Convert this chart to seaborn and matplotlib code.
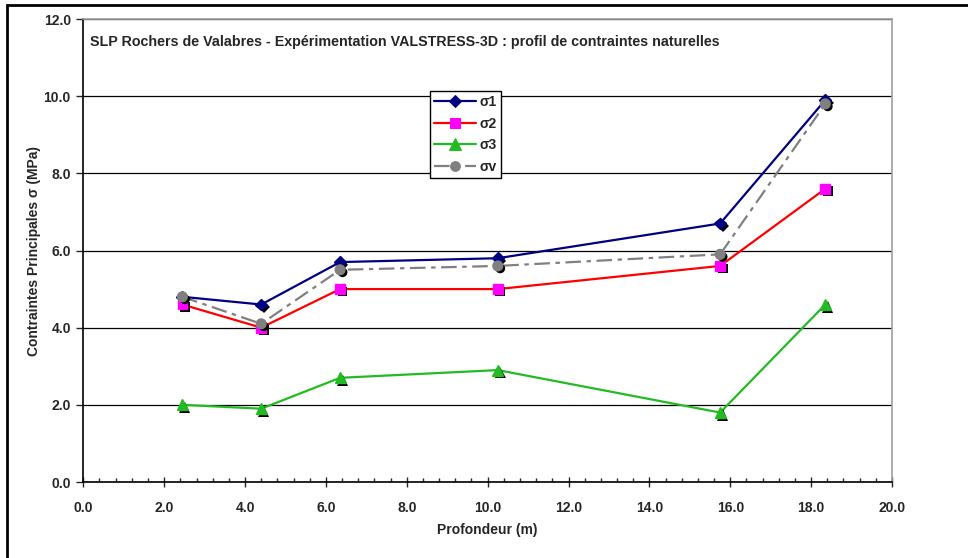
import numpy as np
import pandas as pd
import matplotlib
matplotlib.use("Agg")
import matplotlib.pyplot as plt
import matplotlib.patheffects as pe
from matplotlib.ticker import MultipleLocator, FormatStrFormatter
import seaborn as sns

# données
profondeur = [2.45, 4.4, 6.35, 10.25, 15.75, 18.35]
sigma1 = [4.8, 4.6, 5.7, 5.8, 6.7, 9.9]
sigma2 = [4.6, 4.0, 5.0, 5.0, 5.6, 7.6]
sigma3 = [2.0, 1.9, 2.7, 2.9, 1.8, 4.6]
sigmav = [4.8, 4.1, 5.5, 5.6, 5.9, 9.8]

series = [
    ("σ1", sigma1, "#000080", "#000080", "D", 6),
    ("σ2", sigma2, "#ff0000", "#ff00ff", "s", 7),
    ("σ3", sigma3, "#22bb22", "#22bb22", "^", 8),
    ("σv", sigmav, "#808080", "#808080", "o", 7),
]

sns.set_style("white")
plt.rcParams['font.family'] = ['Liberation Sans', 'DejaVu Sans']
plt.rcParams['font.weight'] = 'bold'

fig = plt.figure(figsize=(9.68, 5.58), dpi=100)
ax = fig.add_axes([83.3 / 968, 1 - 482 / 558, (892 - 83.3) / 968, (482 - 19) / 558])

# cadre extérieur
fig.patches.append(plt.Rectangle((7 / 968, -0.1), 1.2, 1 - 5 / 558 + 0.1, transform=fig.transFigure,
                                 fill=False, edgecolor="black", linewidth=2, zorder=-1))

for nom, vals, lc, mc, mk, ms in series:
    sns.lineplot(x=profondeur, y=vals, ax=ax, color=lc, linewidth=1.6, marker=mk,
                 markersize=ms, markerfacecolor=mc, markeredgecolor=mc, label=nom, zorder=3)
    line = ax.lines[-1]
    if nom == "σv":
        line.set_dashes([7, 2.5, 2, 2.5])
    line.set_marker("None")
    # marqueurs avec ombre (style Excel)
    ax.plot(profondeur, vals, linestyle="none", marker=mk, markersize=ms,
            markerfacecolor=mc, markeredgecolor=mc, zorder=4,
            path_effects=[pe.SimplePatchShadow(offset=(1.8, -1.8), shadow_rgbFace="black", alpha=1),
                          pe.Normal()])

ax.set_xlim(0, 20)
ax.set_ylim(0, 12)
ax.xaxis.set_major_locator(MultipleLocator(2))
ax.xaxis.set_minor_locator(MultipleLocator(0.4))
ax.yaxis.set_major_locator(MultipleLocator(2))
ax.xaxis.set_major_formatter(FormatStrFormatter("%.1f"))
ax.yaxis.set_major_formatter(FormatStrFormatter("%.1f"))
ax.tick_params(axis="x", which="major", direction="inout", length=7, width=1, labelsize=10, pad=10, bottom=True)
ax.tick_params(axis="x", which="minor", direction="in", length=3, width=1, bottom=True)
ax.tick_params(axis="y", which="major", direction="out", length=5, width=1, labelsize=10, pad=4, left=True)
for lab in ax.get_xticklabels() + ax.get_yticklabels():
    lab.set_fontweight("bold")

ax.grid(axis="y", color="black", linewidth=0.9)
ax.set_axisbelow(True)
ax.spines["left"].set_color("black")
ax.spines["bottom"].set_color("black")
ax.spines["top"].set_color("#a0a0a0")
ax.spines["right"].set_color("#a0a0a0")
for s in ax.spines.values():
    s.set_linewidth(1.2)

ax.set_xlabel("Profondeur (m)", fontsize=10, fontweight="bold", labelpad=6)
ax.set_ylabel("Contraintes Principales σ (MPa)", fontsize=10, fontweight="bold", labelpad=2)
ax.text(0.008, 0.950, "SLP Rochers de Valabres - Expérimentation VALSTRESS-3D : profil de contraintes naturelles",
        transform=ax.transAxes, fontsize=10.3, fontweight="bold", va="center", ha="left")

leg = ax.legend(loc="upper left", bbox_to_anchor=(0.429, 0.845), fontsize=10, frameon=True,
                fancybox=False, edgecolor="black", framealpha=1, handlelength=3.0,
                borderpad=0.3, labelspacing=0.55, handletextpad=0.25, borderaxespad=0)
leg.get_frame().set_linewidth(1)
for t in leg.get_texts():
    t.set_fontweight("bold")
for h, (nom, vals, lc, mc, mk, ms) in zip(leg.legend_handles, series):
    h.set_marker(mk)
    h.set_markersize(ms)
    h.set_markerfacecolor(mc)
    h.set_markeredgecolor(mc)

fig.savefig("out.png", dpi=100)
